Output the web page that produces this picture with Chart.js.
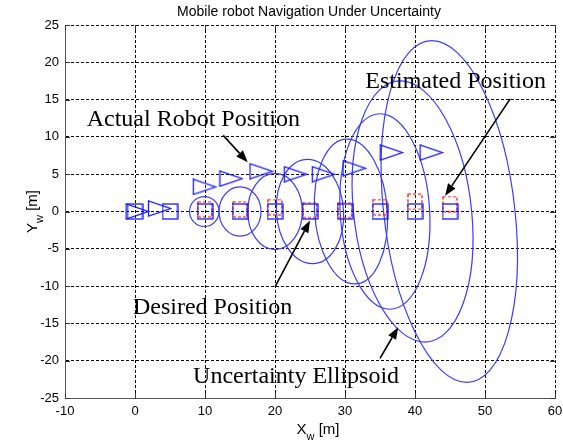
<!DOCTYPE html>
<html>
<head>
<meta charset="utf-8">
<script src="https://cdn.jsdelivr.net/npm/chart.js@4.4.1/dist/chart.umd.min.js"></script>
<style>
  html, body { margin: 0; padding: 0; background: #fff; }
  #wrap { width: 563px; height: 446px; }
</style>
</head>
<body>
<div id="wrap"><canvas id="chart"></canvas></div>
<script>
/* ticks */
const xTicks = [-10, 0, 10, 20, 30, 40, 50, 60];
const yTicks = [-25, -20, -15, -10, -5, 0, 5, 10, 15, 20, 25];

/* desired positions (blue squares) */
const desiredX = [0, 5, 10, 15, 20, 25, 30, 35, 40, 45];
const desiredY = [0, 0, 0, 0, 0, 0, 0, 0, 0, 0];

/* estimated positions (red dashed squares) */
const estX = [10, 15, 20, 25, 30, 35, 40, 45];
const estY = [0.3, 0.3, 0.6, 0.2, 0.2, 0.6, 1.3, 1.0];

/* actual robot positions (triangles) */
const actX = [0.3, 3.5, 9.9, 13.7, 18, 22.9, 26.9, 31.3, 36.6, 42.3];
const actY = [0, 0.4, 3.3, 4.4, 5.4, 5, 5, 5.8, 7.9, 7.9];

/* uncertainty ellipses: centre, half width, half height, shift of the top */
const ellCx = [9.9, 15, 20, 25, 30.85, 35.7, 39.65, 44.9];
const ellCy = [0, 0, 0, 0, 0, 0, 0, 0];
const ellRx = [2.1, 3, 3.9, 4.8, 5.2, 6.4, 8.45, 9.4];
const ellRy = [2.0, 3.3, 5.1, 7, 9.7, 13.1, 17.5, 22.9];
const ellK  = [0, 0, 0, 0.35, 0.55, 0.7, 1.75, 2.5];

const BLUE = '#1a1aff';

/* marker images */
function blueSquare() {
  const c = document.createElement('canvas');
  c.width = 17; c.height = 17;
  const g = c.getContext('2d');
  g.strokeStyle = BLUE; g.lineWidth = 1.3;
  g.strokeRect(1, 1, 15, 15);
  return c;
}
function redSquare() {
  const c = document.createElement('canvas');
  c.width = 16; c.height = 17;
  const g = c.getContext('2d');
  g.strokeStyle = '#ff0000'; g.lineWidth = 1.2;
  g.setLineDash([3, 2]);
  g.strokeRect(1, 1, 14, 15);
  return c;
}
function triangle() {
  const c = document.createElement('canvas');
  c.width = 25; c.height = 17;
  const g = c.getContext('2d');
  g.strokeStyle = BLUE; g.lineWidth = 1.3;
  g.beginPath();
  g.moveTo(1.5, 1); g.lineTo(1.5, 16); g.lineTo(23.5, 8.5); g.closePath();
  g.stroke();
  return c;
}

const pts = (xs, ys) => xs.map((x, i) => ({ x: x, y: ys[i] }));

/* annotations: text and arrows in data units */
const notes = [
  { text: 'Actual Robot Position', x: -6.9, y: 11.4, ax: [12.6, 10.2, 16.1, 6.6] },
  { text: 'Estimated Position', x: 32.9, y: 16.5, ax: [53.6, 15.1, 44.3, 2.1] },
  { text: 'Desired Position', x: -0.3, y: -13.8, ax: [20, -10.1, 25, -1.2] },
  { text: 'Uncertainty Ellipsoid', x: 8.3, y: -23.0, ax: [35, -19.7, 37.6, -15.5] }
];

function arrow(ctx, x1, y1, x2, y2) {
  const ang = Math.atan2(y2 - y1, x2 - x1);
  const L = 12, W = 4.5;
  const bx = x2 - L * Math.cos(ang), by = y2 - L * Math.sin(ang);
  ctx.beginPath();
  ctx.moveTo(x1, y1); ctx.lineTo(bx, by);
  ctx.stroke();
  ctx.beginPath();
  ctx.moveTo(x2, y2);
  ctx.lineTo(bx + W * Math.sin(ang), by - W * Math.cos(ang));
  ctx.lineTo(bx - W * Math.sin(ang), by + W * Math.cos(ang));
  ctx.closePath();
  ctx.fill();
}

const extras = {
  id: 'extras',
  beforeDatasetsDraw(chart) {
    const ctx = chart.ctx;
    const xs = chart.scales.x, ys = chart.scales.y;
    const a = chart.chartArea;
    const sx = xs.getPixelForValue(1) - xs.getPixelForValue(0);
    const sy = ys.getPixelForValue(0) - ys.getPixelForValue(1);

    /* inward tick marks */
    ctx.save();
    ctx.strokeStyle = '#333'; ctx.lineWidth = 1;
    ctx.beginPath();
    xTicks.forEach(v => {
      const p = Math.round(xs.getPixelForValue(v)) + 0.5;
      ctx.moveTo(p, a.bottom); ctx.lineTo(p, a.bottom - 5);
      ctx.moveTo(p, a.top); ctx.lineTo(p, a.top + 5);
    });
    yTicks.forEach(v => {
      const p = Math.round(ys.getPixelForValue(v)) + 0.5;
      ctx.moveTo(a.left, p); ctx.lineTo(a.left + 5, p);
      ctx.moveTo(a.right, p); ctx.lineTo(a.right - 5, p);
    });
    ctx.stroke();

    /* ellipses */
    ctx.strokeStyle = '#3b3bff'; ctx.lineWidth = 1.2;
    ellCx.forEach((cx, i) => {
      ctx.beginPath();
      ctx.save();
      ctx.transform(sx * ellRx[i], 0, -sx * ellK[i], -sy * ellRy[i],
        xs.getPixelForValue(cx), ys.getPixelForValue(ellCy[i]));
      ctx.arc(0, 0, 1, 0, Math.PI * 2);
      ctx.restore();
      ctx.stroke();
    });
    ctx.restore();
  },
  afterDraw(chart) {
    const ctx = chart.ctx;
    const xs = chart.scales.x, ys = chart.scales.y;
    const a = chart.chartArea;
    ctx.save();
    ctx.fillStyle = '#000';

    /* title */
    ctx.font = '14px "Liberation Sans", Arial, sans-serif';
    ctx.textAlign = 'center'; ctx.textBaseline = 'alphabetic';
    ctx.fillText('Mobile robot Navigation Under Uncertainty', 309, 16);

    /* axis titles with subscript */
    const big = '15px "Liberation Sans", Arial, sans-serif';
    const small = '11px "Liberation Sans", Arial, sans-serif';
    function subLabel(x0, base, main) {
      ctx.textAlign = 'left';
      ctx.font = big;
      const w1 = ctx.measureText(main).width;
      ctx.font = small;
      const w2 = ctx.measureText('w').width;
      ctx.font = big;
      const w3 = ctx.measureText(' [m]').width;
      const start = x0 - (w1 + w2 + w3) / 2;
      ctx.fillText(main, start, base);
      ctx.font = small;
      ctx.fillText('w', start + w1, base + 6);
      ctx.font = big;
      ctx.fillText(' [m]', start + w1 + w2, base);
    }
    subLabel(318, 434, 'X');
    ctx.save();
    ctx.translate(37, (a.top + a.bottom) / 2);
    ctx.rotate(-Math.PI / 2);
    subLabel(0, 0, 'Y');
    ctx.restore();

    /* annotations */
    ctx.font = '24px "Liberation Serif", "Times New Roman", serif';
    ctx.textAlign = 'left';
    ctx.strokeStyle = '#000'; ctx.lineWidth = 1.6;
    notes.forEach(n => {
      ctx.fillText(n.text, xs.getPixelForValue(n.x), ys.getPixelForValue(n.y));
      arrow(ctx,
        xs.getPixelForValue(n.ax[0]), ys.getPixelForValue(n.ax[1]),
        xs.getPixelForValue(n.ax[2]), ys.getPixelForValue(n.ax[3]));
    });
    ctx.restore();
  }
};

const gridOpts = { color: '#000', lineWidth: 1, drawTicks: false };
const tickFont = { family: '"Liberation Sans", Arial, sans-serif', size: 13 };

new Chart(document.getElementById('chart'), {
  type: 'scatter',
  data: {
    datasets: [
      { label: 'Desired', data: pts(desiredX, desiredY), pointStyle: blueSquare(), showLine: false },
      { label: 'Estimated', data: pts(estX, estY), pointStyle: redSquare(), showLine: false },
      { label: 'Actual', data: pts(actX, actY), pointStyle: triangle(), showLine: false }
    ]
  },
  options: {
    responsive: true,
    maintainAspectRatio: false,
    animation: false,
    layout: { padding: { top: 25, right: 8, left: 0, bottom: 0 } },
    plugins: { legend: { display: false }, tooltip: { enabled: false }, title: { display: false } },
    scales: {
      x: {
        type: 'linear', min: -10, max: 60,
        afterBuildTicks: s => { s.ticks = xTicks.map(v => ({ value: v })); },
        afterFit: s => { s.height = 48; s.paddingLeft = 0; s.paddingRight = 0; },
        grid: gridOpts,
        border: { display: true, color: '#555', width: 1, dash: [3, 2] },
        ticks: { color: '#000', font: tickFont, padding: 6, maxRotation: 0 }
      },
      y: {
        type: 'linear', min: -25, max: 25,
        afterBuildTicks: s => { s.ticks = yTicks.map(v => ({ value: v })); },
        afterFit: s => { s.width = 65; s.paddingTop = 0; s.paddingBottom = 0; },
        grid: gridOpts,
        border: { display: true, color: '#555', width: 1, dash: [3, 2] },
        ticks: { color: '#000', font: tickFont, padding: 6 }
      }
    }
  },
  plugins: [extras]
});
</script>
</body>
</html>
